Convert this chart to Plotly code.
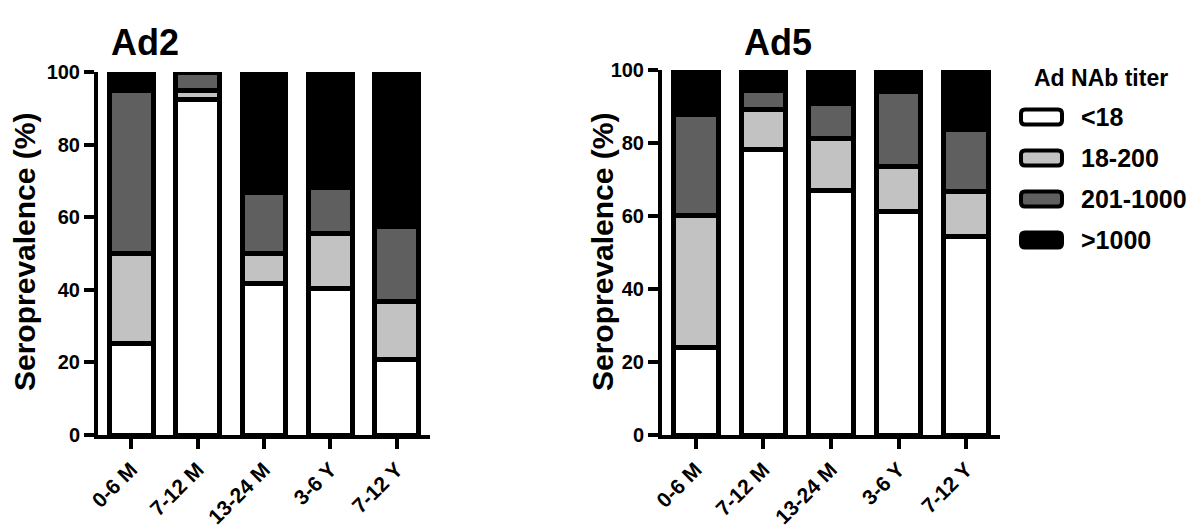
import plotly.graph_objects as go

# ---------------- data ----------------
categories = ["0-6 M", "7-12 M", "13-24 M", "3-6 Y", "7-12 Y"]
titer_groups = ["<18", "18-200", "201-1000", ">1000"]
group_colors = ["#ffffff", "#c2c2c2", "#5f5f5f", "#000000"]

ad2_lt18 = [25.1, 92.3, 41.6, 40.4, 20.9]
ad2_18_200 = [24.9, 2.5, 8.3, 15.0, 15.8]
ad2_201_1000 = [45.0, 5.2, 16.8, 12.7, 20.7]
ad2_gt1000 = [5.0, 0.0, 33.3, 31.9, 42.6]

ad5_lt18 = [24.0, 78.1, 66.9, 61.2, 54.3]
ad5_18_200 = [36.1, 11.1, 14.4, 12.5, 12.4]
ad5_201_1000 = [27.8, 5.1, 9.6, 20.5, 17.1]
ad5_gt1000 = [12.1, 5.7, 9.1, 5.8, 16.2]

panel_titles = ["Ad2", "Ad5"]
y_title = "Seroprevalence (%)"
legend_title = "Ad NAb titer"
y_ticks = [0, 20, 40, 60, 80, 100]

W, H = 1200, 530
FONT = "Liberation Sans, Arial, Helvetica, sans-serif"


def px(x):
    return x / W


def py(y):
    return (H - y) / H


fig = go.Figure()

panels = [
    ("x", "y", [ad2_lt18, ad2_18_200, ad2_201_1000, ad2_gt1000]),
    ("x2", "y2", [ad5_lt18, ad5_18_200, ad5_201_1000, ad5_gt1000]),
]
for xa, ya, series in panels:
    for name, vals, col in zip(titer_groups, series, group_colors):
        fig.add_trace(go.Bar(
            x=categories, y=vals, name=name, xaxis=xa, yaxis=ya,
            marker=dict(color=col, line=dict(color="black", width=5)),
            width=0.66, showlegend=False, hoverinfo="skip",
        ))

axis_common = dict(
    showline=True, linecolor="black", linewidth=4,
    ticks="outside", ticklen=10, tickwidth=4, tickcolor="black",
    showgrid=False, zeroline=False, automargin=False,
)
ytickfont = dict(family=FONT, size=20, color="black", weight="bold")
xtickfont = dict(family=FONT, size=21, color="black", weight="bold")

fig.update_layout(
    width=W, height=H,
    margin=dict(l=0, r=0, t=0, b=0, pad=0),
    paper_bgcolor="white", plot_bgcolor="white",
    barmode="stack", showlegend=False,
    xaxis=dict(domain=[px(98), px(430)], anchor="y", range=[-0.5, 4.5],
               tickangle=-45, tickfont=xtickfont, **axis_common),
    yaxis=dict(domain=[py(435), py(72)], anchor="x", range=[0, 100],
               tickvals=y_ticks, tickfont=ytickfont, **axis_common),
    xaxis2=dict(domain=[px(662), px(1000)], anchor="y2", range=[-0.5, 4.5],
                tickangle=-45, tickfont=xtickfont, **axis_common),
    yaxis2=dict(domain=[py(435), py(70)], anchor="x2", range=[0, 100],
                tickvals=y_ticks, tickfont=ytickfont, **axis_common),
)

annotations = []
# panel titles
for t, cx in zip(panel_titles, [145, 778]):
    annotations.append(dict(text=t, x=px(cx), y=py(43), xref="paper", yref="paper",
                            xanchor="center", yanchor="middle", showarrow=False,
                            font=dict(family=FONT, size=36, color="black", weight="bold")))
# y-axis titles
for cx, cy in [(24, 252), (602, 252)]:
    annotations.append(dict(text=y_title, x=px(cx), y=py(cy), xref="paper", yref="paper",
                            xanchor="center", yanchor="middle", textangle=-90, showarrow=False,
                            font=dict(family=FONT, size=30, color="black", weight="bold")))
# legend title
annotations.append(dict(text=legend_title, x=px(1101), y=py(78), xref="paper", yref="paper",
                        xanchor="center", yanchor="middle", showarrow=False,
                        font=dict(family=FONT, size=23, color="black", weight="bold")))

shapes = []
legend_y = [117, 158, 199, 240]
for name, col, cy in zip(titer_groups, group_colors, legend_y):
    x0, x1 = 1021, 1062
    y0, y1 = cy - 7.5, cy + 7.5
    r = 4
    path = (f"M {px(x0 + r)},{py(y0)} L {px(x1 - r)},{py(y0)} Q {px(x1)},{py(y0)} {px(x1)},{py(y0 + r)} "
            f"L {px(x1)},{py(y1 - r)} Q {px(x1)},{py(y1)} {px(x1 - r)},{py(y1)} "
            f"L {px(x0 + r)},{py(y1)} Q {px(x0)},{py(y1)} {px(x0)},{py(y1 - r)} "
            f"L {px(x0)},{py(y0 + r)} Q {px(x0)},{py(y0)} {px(x0 + r)},{py(y0)} Z")
    shapes.append(dict(type="path", path=path, xref="paper", yref="paper",
                       fillcolor=col, line=dict(color="black", width=4)))
    annotations.append(dict(text=name, x=px(1079), y=py(cy), xref="paper", yref="paper",
                            xanchor="left", yanchor="middle", showarrow=False,
                            font=dict(family=FONT, size=25, color="black", weight="bold")))

fig.update_layout(annotations=annotations, shapes=shapes)

fig.write_html(
    "out.html",
    config={"displayModeBar": False},
    post_script="document.body.style.margin='0px';document.body.style.padding='0px';"
                "document.body.style.overflow='hidden';",
)
